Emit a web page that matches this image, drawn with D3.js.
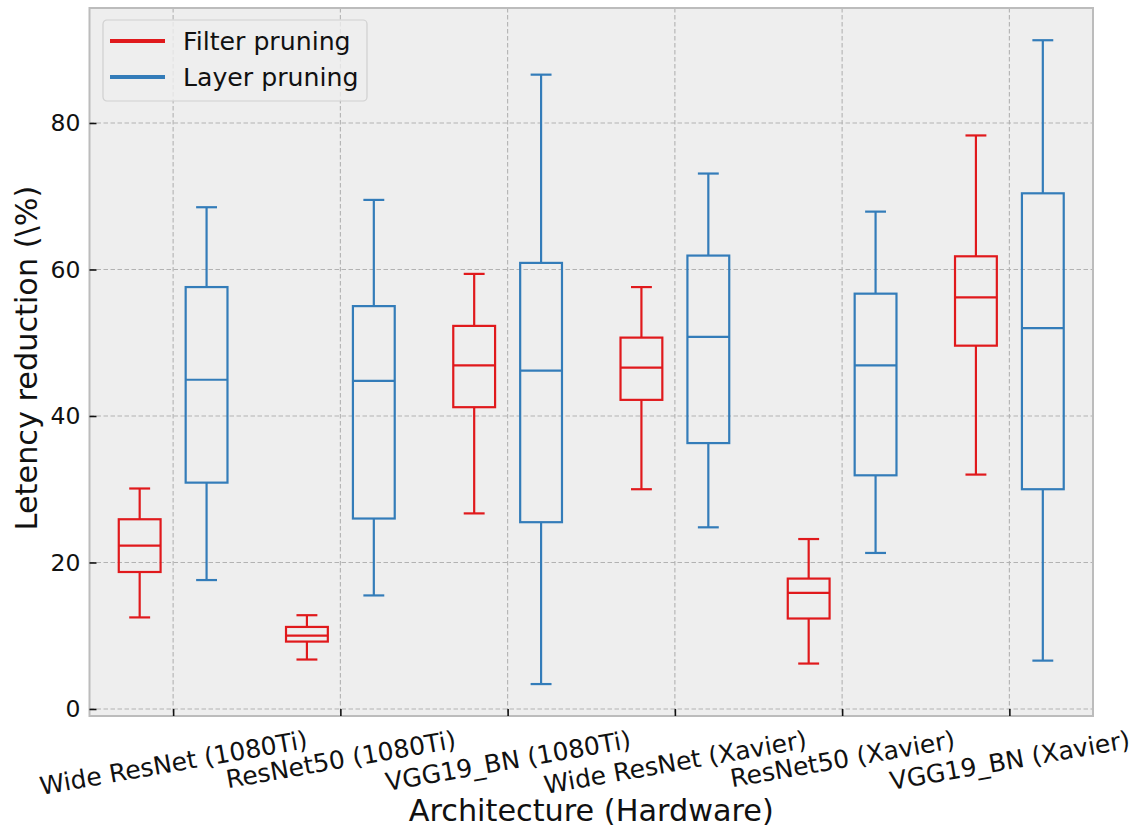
<!DOCTYPE html>
<html>
<head>
<meta charset="utf-8">
<script src="https://cdn.jsdelivr.net/npm/d3@7"></script>
<style>
  html, body { margin: 0; padding: 0; background: #ffffff; }
  svg { display: block; font-family: "DejaVu Sans", sans-serif; }
</style>
</head>
<body>
<svg id="chart" width="1139" height="829"></svg>
<script>
// Architecture (hardware) groups along the x axis
const categories = [
  "Wide ResNet (1080Ti)", "ResNet50 (1080Ti)", "VGG19_BN (1080Ti)",
  "Wide ResNet (Xavier)", "ResNet50 (Xavier)", "VGG19_BN (Xavier)"
];

// Filter pruning: whisker ends, quartiles and medians (latency reduction, %)
const filterLow    = [12.5, 6.75, 26.7, 30.0, 6.2, 32.0];
const filterQ1     = [18.7, 9.2, 41.2, 42.2, 12.35, 49.6];
const filterMedian = [22.3, 10.0, 46.9, 46.6, 15.85, 56.2];
const filterQ3     = [25.9, 11.2, 52.3, 50.7, 17.8, 61.8];
const filterHigh   = [30.1, 12.8, 59.4, 57.6, 23.2, 78.3];

// Layer pruning: whisker ends, quartiles and medians (latency reduction, %)
const layerLow    = [17.6, 15.5, 3.4, 24.8, 21.3, 6.6];
const layerQ1     = [30.9, 26.0, 25.5, 36.3, 31.9, 30.0];
const layerMedian = [44.95, 44.8, 46.2, 50.8, 46.9, 52.0];
const layerQ3     = [57.6, 55.0, 60.9, 61.9, 56.7, 70.4];
const layerHigh   = [68.5, 69.5, 86.6, 73.1, 67.9, 91.3];

const yTicks = [0, 20, 40, 60, 80];

const seriesNames = ["Filter pruning", "Layer pruning"];
const seriesColors = ["#e0191c", "#337cb9"];

// Build box records for each series
function boxes(low, q1, med, q3, high, s) {
  return categories.map((c, i) => ({
    pos: i + 1, series: s,
    low: low[i], q1: q1[i], med: med[i], q3: q3[i], high: high[i]
  }));
}
const boxData = [
  ...boxes(filterLow, filterQ1, filterMedian, filterQ3, filterHigh, 0),
  ...boxes(layerLow, layerQ1, layerMedian, layerQ3, layerHigh, 1)
];

const svg = d3.select("#chart");
const plot = { left: 89.5, right: 1093, top: 8, bottom: 716 };

const x = d3.scaleLinear().domain([0.5, categories.length + 0.5]).range([plot.left, plot.right]);
const y = d3.scaleLinear().domain([-0.96, 95.7]).range([plot.bottom, plot.top]);

const offset = 0.2, boxW = 0.25, capW = 0.125;
const unit = x(1) - x(0);

// Plot background
svg.append("rect")
  .attr("x", plot.left).attr("y", plot.top)
  .attr("width", plot.right - plot.left).attr("height", plot.bottom - plot.top)
  .attr("fill", "#eeeeee");

// Dashed grid
const grid = svg.append("g").attr("class", "grid");
grid.selectAll("line.gy").data(yTicks).join("line")
  .attr("x1", plot.left).attr("x2", plot.right)
  .attr("y1", d => y(d)).attr("y2", d => y(d))
  .attr("stroke", "#b2b2b2").attr("stroke-width", 1.1)
  .attr("stroke-dasharray", "4.5,2.5");
grid.selectAll("line.gx").data(d3.range(1, categories.length + 1)).join("line")
  .attr("x1", d => x(d)).attr("x2", d => x(d))
  .attr("y1", plot.top).attr("y2", plot.bottom)
  .attr("stroke", "#b2b2b2").attr("stroke-width", 1.1)
  .attr("stroke-dasharray", "4.5,2.5");

// Box plots
const g = svg.append("g").attr("class", "boxes");
const box = g.selectAll("g.box").data(boxData).join("g")
  .attr("stroke", d => seriesColors[d.series])
  .attr("stroke-width", 2.2)
  .attr("fill", "none");
const cx = d => x(d.pos + (d.series === 0 ? -offset : offset));

box.append("line") // upper whisker
  .attr("x1", cx).attr("x2", cx)
  .attr("y1", d => y(d.q3)).attr("y2", d => y(d.high));
box.append("line") // lower whisker
  .attr("x1", cx).attr("x2", cx)
  .attr("y1", d => y(d.q1)).attr("y2", d => y(d.low));
box.append("line") // upper cap
  .attr("x1", d => cx(d) - capW * unit / 2).attr("x2", d => cx(d) + capW * unit / 2)
  .attr("y1", d => y(d.high)).attr("y2", d => y(d.high));
box.append("line") // lower cap
  .attr("x1", d => cx(d) - capW * unit / 2).attr("x2", d => cx(d) + capW * unit / 2)
  .attr("y1", d => y(d.low)).attr("y2", d => y(d.low));
box.append("rect")
  .attr("x", d => cx(d) - boxW * unit / 2).attr("width", boxW * unit)
  .attr("y", d => y(d.q3)).attr("height", d => y(d.q1) - y(d.q3));
box.append("line") // median
  .attr("x1", d => cx(d) - boxW * unit / 2).attr("x2", d => cx(d) + boxW * unit / 2)
  .attr("y1", d => y(d.med)).attr("y2", d => y(d.med));

// Frame
svg.append("rect")
  .attr("x", plot.left).attr("y", plot.top)
  .attr("width", plot.right - plot.left).attr("height", plot.bottom - plot.top)
  .attr("fill", "none").attr("stroke", "#bcbcbc").attr("stroke-width", 2);

// Y axis
const yAxis = svg.append("g")
  .attr("transform", `translate(${plot.left},0)`)
  .call(d3.axisLeft(y).tickValues(yTicks).tickSize(-7).tickPadding(9).tickFormat(d3.format("d")));
yAxis.select(".domain").remove();
yAxis.selectAll(".tick line").attr("stroke", "#111").attr("stroke-width", 1.6);
yAxis.selectAll(".tick text").attr("fill", "#111").style("font-size", "23.5px")
  .attr("font-family", "DejaVu Sans");

// X axis
const xAxis = svg.append("g")
  .attr("transform", `translate(0,${plot.bottom})`)
  .call(d3.axisBottom(x).tickValues(d3.range(1, categories.length + 1)).tickSize(-7)
    .tickFormat(d => categories[d - 1]));
xAxis.select(".domain").remove();
xAxis.selectAll(".tick line").attr("stroke", "#111").attr("stroke-width", 1.6);
const angle = 10 * Math.PI / 180;
const xFont = 25;
xAxis.selectAll(".tick text")
  .attr("fill", "#111").style("font-size", xFont + "px").attr("font-family", "DejaVu Sans")
  .attr("text-anchor", "middle").attr("dy", null).attr("dominant-baseline", "central")
  .each(function () {
    const t = d3.select(this);
    const w = this.getComputedTextLength();
    const h = xFont * 1.17;
    const bh = w * Math.sin(angle) + h * Math.cos(angle);
    t.attr("y", null)
      .attr("transform", `translate(0,${9 + bh / 2}) rotate(-10)`);
  });

// Axis titles
svg.append("text")
  .attr("x", (plot.left + plot.right) / 2).attr("y", 821)
  .attr("text-anchor", "middle").attr("fill", "#111")
  .style("font-size", "30.3px").text("Architecture (Hardware)");
svg.append("text")
  .attr("transform", `translate(37,${(plot.top + plot.bottom) / 2 - 4}) rotate(-90)`)
  .attr("text-anchor", "middle").attr("fill", "#111")
  .style("font-size", "30.3px").text("Letency reduction (\\%)");

// Legend
const legend = svg.append("g").attr("transform", "translate(103,20)");
legend.append("rect")
  .attr("width", 264).attr("height", 81).attr("rx", 4)
  .attr("fill", "#eeeeee").attr("fill-opacity", 0.8)
  .attr("stroke", "#d0d0d0").attr("stroke-width", 1.2);
const item = legend.selectAll("g.item").data(seriesNames).join("g")
  .attr("transform", (d, i) => `translate(0,${21 + i * 36})`);
item.append("line")
  .attr("x1", 7).attr("x2", 62)
  .attr("stroke", (d, i) => seriesColors[i]).attr("stroke-width", 4);
item.append("text")
  .attr("x", 80).attr("dominant-baseline", "central").attr("fill", "#111")
  .style("font-size", "25.2px").text(d => d);
</script>
</body>
</html>
